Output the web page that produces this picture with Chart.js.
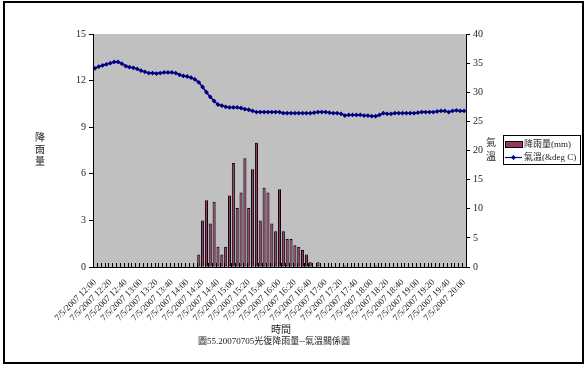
<!DOCTYPE html>
<html>
<head>
<meta charset="utf-8">
<script src="https://cdn.jsdelivr.net/npm/chart.js@4/dist/chart.umd.min.js"></script>
<style>
  html, body { margin: 0; padding: 0; background: #fff; }
  #wrap { width: 587px; height: 367px; position: relative; }
</style>
</head>
<body>
<div id="wrap"><canvas id="c" width="587" height="367"></canvas></div>
<script>
// 2007-07-05 Guangfu station, 5-minute records 12:00 - 20:00
const datePrefix = '7/5/2007 ';
const times = [
  '12:00','12:05','12:10','12:15','12:20','12:25','12:30','12:35','12:40','12:45','12:50','12:55',
  '13:00','13:05','13:10','13:15','13:20','13:25','13:30','13:35','13:40','13:45','13:50','13:55',
  '14:00','14:05','14:10','14:15','14:20','14:25','14:30','14:35','14:40','14:45','14:50','14:55',
  '15:00','15:05','15:10','15:15','15:20','15:25','15:30','15:35','15:40','15:45','15:50','15:55',
  '16:00','16:05','16:10','16:15','16:20','16:25','16:30','16:35','16:40','16:45','16:50','16:55',
  '17:00','17:05','17:10','17:15','17:20','17:25','17:30','17:35','17:40','17:45','17:50','17:55',
  '18:00','18:05','18:10','18:15','18:20','18:25','18:30','18:35','18:40','18:45','18:50','18:55',
  '19:00','19:05','19:10','19:15','19:20','19:25','19:30','19:35','19:40','19:45','19:50','19:55',
  '20:00'
];

// rainfall (mm) per interval
const rainfall = [
  0,0,0,0,0,0,0,0,0,0,0,0,
  0,0,0,0,0,0,0,0,0,0,0,0,
  0,0,0,0.8,3.0,4.3,2.8,4.2,1.3,0.8,1.3,4.6,
  6.7,3.8,4.8,7.0,3.8,6.3,8.0,3.0,5.1,4.8,2.8,2.3,
  5.0,2.3,1.8,1.8,1.4,1.3,1.1,0.8,0.3,0,0.3,0,
  0,0,0,0,0,0.1,0,0,0,0,0,0,
  0,0.1,0,0,0,0,0,0,0,0,0,0,
  0,0,0,0,0,0,0,0,0,0,0,0,
  0
];

// air temperature (deg C)
const temperature = [
  34.1,34.4,34.6,34.8,35.0,35.2,35.2,34.9,34.5,34.3,34.2,34.0,
  33.7,33.5,33.3,33.3,33.2,33.3,33.4,33.4,33.4,33.3,33.0,32.8,
  32.7,32.5,32.2,31.7,30.9,30.0,29.2,28.5,27.9,27.7,27.5,27.4,
  27.4,27.4,27.3,27.1,27.0,26.8,26.6,26.6,26.6,26.6,26.6,26.6,
  26.6,26.4,26.4,26.4,26.4,26.4,26.4,26.4,26.4,26.5,26.6,26.6,
  26.6,26.5,26.4,26.4,26.3,26.0,26.1,26.1,26.1,26.1,26.0,26.0,
  25.9,25.9,26.1,26.4,26.3,26.3,26.4,26.4,26.4,26.4,26.4,26.4,
  26.5,26.6,26.6,26.6,26.6,26.7,26.8,26.8,26.6,26.8,26.9,26.8,
  26.8
];

const rainAxis = { min: 0, max: 15, step: 3 };
const tempAxis = { min: 0, max: 40, step: 5 };
const labelEvery = 4;

const rainName = '降雨量(mm)';
const tempName = '氣溫(&deg C)';
const rainTitle = '降雨量';
const tempTitle = '氣溫';
const timeTitle = '時間';
const caption = '圖55.20070705光復降雨量--氣溫關係圖';

const categories = times.map(t => datePrefix + t);

const rainFill = '#993366';
const tempColor = '#000080';
const plotGray = '#C0C0C0';
const serif = "'Liberation Serif', 'Noto Sans CJK TC', serif";
const textColor = '#222';

const decor = {
  id: 'decor',
  beforeDraw(chart) {
    const { ctx, chartArea: a } = chart;
    ctx.save();
    ctx.fillStyle = '#fff';
    ctx.fillRect(0, 0, chart.width, chart.height);
    ctx.fillStyle = plotGray;
    ctx.fillRect(a.left, a.top, a.right - a.left, a.bottom - a.top);
    ctx.restore();
  },
  afterDraw(chart) {
    const { ctx, chartArea: a } = chart;
    const xs = chart.scales.x;
    ctx.save();

    // inward category tick marks on the time axis
    const step = xs.getPixelForValue(1) - xs.getPixelForValue(0);
    ctx.strokeStyle = '#000';
    ctx.lineWidth = 1;
    ctx.beginPath();
    for (let i = 0; i <= categories.length; i++) {
      const x = Math.round(xs.getPixelForValue(i) - step / 2) + 0.5;
      ctx.moveTo(x, a.bottom);
      ctx.lineTo(x, a.bottom - 4);
    }
    ctx.stroke();

    ctx.fillStyle = textColor;
    ctx.textAlign = 'center';
    ctx.textBaseline = 'middle';
    ctx.font = '10px ' + serif;

    // stacked vertical axis titles
    [...rainTitle].forEach((ch, k) => ctx.fillText(ch, 40, 138 + k * 12));
    [...tempTitle].forEach((ch, k) => ctx.fillText(ch, 491, 143 + k * 14));

    // axis title and caption
    ctx.fillText(timeTitle, 281, 330);
    ctx.font = '9px ' + serif;
    ctx.fillText(caption, 274, 342);

    // legend
    const lx = 503.5, ly = 135.5, lw = 77, lh = 29;
    ctx.fillStyle = '#fff';
    ctx.fillRect(lx, ly, lw, lh);
    ctx.strokeStyle = '#000';
    ctx.lineWidth = 1;
    ctx.strokeRect(lx, ly, lw, lh);
    ctx.fillStyle = rainFill;
    ctx.fillRect(505.5, 141.5, 17, 6);
    ctx.strokeRect(505.5, 141.5, 17, 6);
    ctx.strokeStyle = tempColor;
    ctx.lineWidth = 1.2;
    ctx.beginPath();
    ctx.moveTo(505, 157.5);
    ctx.lineTo(522, 157.5);
    ctx.stroke();
    ctx.fillStyle = tempColor;
    ctx.beginPath();
    ctx.moveTo(513.5, 155); ctx.lineTo(516, 157.5); ctx.lineTo(513.5, 160); ctx.lineTo(511, 157.5);
    ctx.closePath();
    ctx.fill();
    ctx.fillStyle = textColor;
    ctx.textAlign = 'left';
    ctx.font = '9px ' + serif;
    ctx.fillText(rainName, 524, 144.5);
    ctx.fillText(tempName, 524, 157.5);

    // outer frame
    ctx.strokeStyle = '#000';
    ctx.lineWidth = 2;
    ctx.strokeRect(4, 2, 579, 361);
    ctx.restore();
  }
};

new Chart(document.getElementById('c'), {
  data: {
    labels: categories,
    datasets: [
      {
        type: 'line',
        label: tempName,
        data: temperature,
        yAxisID: 'y1',
        borderColor: tempColor,
        backgroundColor: tempColor,
        borderWidth: 1.5,
        pointStyle: 'rectRot',
        pointRadius: 2.4,
        pointBorderWidth: 0,
        pointBackgroundColor: tempColor,
        tension: 0,
        order: 0
      },
      {
        type: 'bar',
        label: rainName,
        data: rainfall,
        yAxisID: 'y',
        backgroundColor: rainFill,
        borderColor: '#000',
        borderWidth: 1,
        borderSkipped: false,
        categoryPercentage: 1,
        barPercentage: 0.8,
        order: 1
      }
    ]
  },
  options: {
    responsive: false,
    devicePixelRatio: 1,
    animation: false,
    events: [],
    layout: { padding: { left: 63, right: 96, top: 34, bottom: 40 } },
    plugins: { legend: { display: false }, tooltip: { enabled: false } },
    scales: {
      x: {
        type: 'category',
        offset: true,
        grid: { display: false },
        border: { display: true, color: '#000', width: 1 },
        afterFit(s) { s.height = 60; },
        ticks: {
          autoSkip: false,
          minRotation: 45,
          maxRotation: 45,
          padding: 2,
          color: textColor,
          font: { family: serif, size: 9 },
          callback(v, i) { return i % labelEvery === 0 ? categories[i] : ''; }
        }
      },
      y: {
        position: 'left',
        min: rainAxis.min,
        max: rainAxis.max,
        afterFit(s) { s.width = 30; },
        grid: { drawOnChartArea: false, drawTicks: true, tickLength: 4, color: '#000' },
        border: { display: true, color: '#000', width: 1 },
        ticks: { stepSize: rainAxis.step, padding: 3, color: textColor, font: { family: serif, size: 10 } }
      },
      y1: {
        position: 'right',
        min: tempAxis.min,
        max: tempAxis.max,
        afterFit(s) { s.width = 25; },
        grid: { drawOnChartArea: false, drawTicks: true, tickLength: 4, color: '#000' },
        border: { display: true, color: '#000', width: 1 },
        ticks: { stepSize: tempAxis.step, padding: 3, color: textColor, font: { family: serif, size: 10 } }
      }
    }
  },
  plugins: [decor]
});
</script>
</body>
</html>
